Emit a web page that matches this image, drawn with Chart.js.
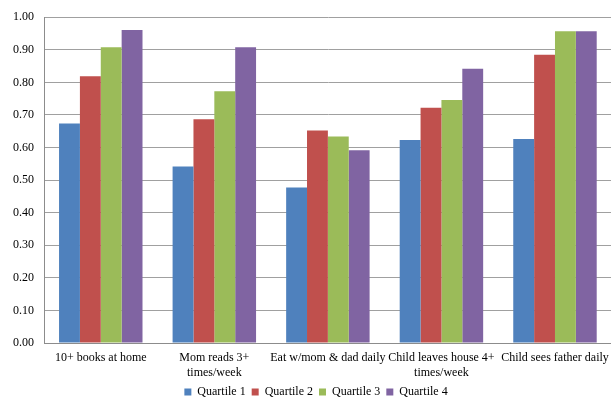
<!DOCTYPE html>
<html>
<head>
<meta charset="utf-8">
<script src="https://cdn.jsdelivr.net/npm/chart.js@4.4.1/dist/chart.umd.min.js"></script>
<style>
  html, body { margin: 0; padding: 0; background: #ffffff; overflow: hidden; }
  #wrap { width: 616px; height: 401px; }
</style>
</head>
<body>
<div id="wrap"><canvas id="chart" width="616" height="401"></canvas></div>
<script>
// Share of children in each income quartile with the given home activity
const categories = [
  "10+ books at home",
  ["Mom reads 3+", "times/week"],
  "Eat w/mom & dad daily",
  ["Child leaves house 4+", "times/week"],
  "Child sees father daily"
];
const seriesNames = ["Quartile 1", "Quartile 2", "Quartile 3", "Quartile 4"];
const quartile1 = [0.674, 0.542, 0.477, 0.623, 0.626];
const quartile2 = [0.819, 0.687, 0.652, 0.722, 0.885];
const quartile3 = [0.908, 0.773, 0.634, 0.746, 0.957];
const quartile4 = [0.961, 0.908, 0.592, 0.842, 0.957];
const seriesColors = ["#4F81BD", "#C0504D", "#9BBB59", "#8064A2"];
const yTicks = [0, 0.1, 0.2, 0.3, 0.4, 0.5, 0.6, 0.7, 0.8, 0.9, 1.0];

const seriesValues = [quartile1, quartile2, quartile3, quartile4];
const FONT = "'Liberation Serif', 'Times New Roman', serif";

// Nudge the legend a little right of centre and closer to the axis labels
const legendShift = {
  id: "legendShift",
  afterUpdate(chart) {
    const lg = chart.legend;
    if (lg) {
      lg.left += 9;
      lg.right += 9;
      lg.top -= 7;
      lg.bottom -= 7;
    }
  }
};

new Chart(document.getElementById("chart"), {
  type: "bar",
  data: {
    labels: categories,
    datasets: seriesNames.map((name, i) => ({
      label: name,
      data: seriesValues[i],
      backgroundColor: seriesColors[i],
      borderWidth: 0,
      barPercentage: 1.0,
      categoryPercentage: 0.735
    }))
  },
  options: {
    responsive: false,
    animation: false,
    layout: { padding: { left: 0, right: 2, top: 7, bottom: -14 } },
    plugins: {
      legend: {
        position: "bottom",
        labels: {
          boxWidth: 7,
          boxHeight: 7,
          padding: 6,
          color: "#000",
          font: { family: FONT, size: 12 }
        }
      },
      tooltip: { enabled: false }
    },
    scales: {
      x: {
        grid: { display: false, drawTicks: false },
        border: { display: true, color: "#8c8c8c", width: 1 },
        ticks: {
          color: "#000",
          padding: 7,
          maxRotation: 0,
          autoSkip: false,
          font: { family: FONT, size: 12, lineHeight: 1.25 }
        }
      },
      y: {
        min: 0,
        max: 1,
        afterBuildTicks: (scale) => { scale.ticks = yTicks.map(v => ({ value: v })); },
        afterFit: (scale) => { scale.width = 44; },
        grid: { color: "#a0a0a0", lineWidth: 1, drawTicks: false },
        border: { display: true, color: "#8c8c8c", width: 1 },
        ticks: {
          color: "#000",
          padding: 10,
          font: { family: FONT, size: 12 },
          callback: (v) => Number(v).toFixed(2)
        }
      }
    }
  },
  plugins: [legendShift]
});
</script>
</body>
</html>
